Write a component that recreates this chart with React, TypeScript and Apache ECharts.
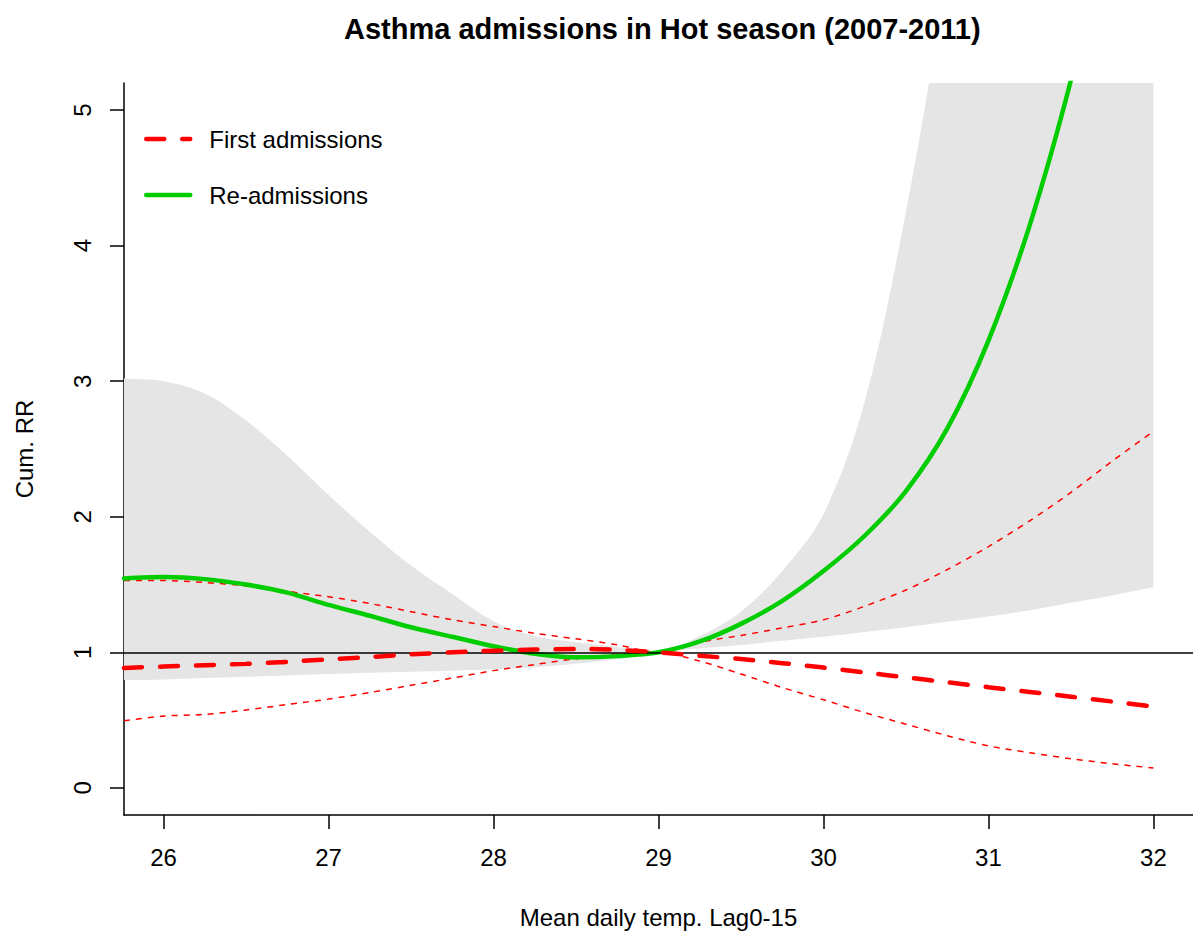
import React, { useEffect, useRef } from 'react';
import * as echarts from 'echarts';

// Mean daily temperature (x) grid
const temps = [25.76, 26, 26.25, 26.5, 26.75, 27, 27.25, 27.5, 27.75, 28, 28.25, 28.5, 28.75, 29, 29.25, 29.5, 29.75, 30, 30.25, 30.5, 30.75, 31, 31.25, 31.5, 31.75, 32];

// Re-admissions: cumulative RR and its 95% CI (grey band)
const reRR = [1.545, 1.555, 1.54, 1.5, 1.44, 1.35, 1.27, 1.185, 1.115, 1.045, 0.99, 0.963, 0.972, 1.0, 1.08, 1.21, 1.38, 1.6, 1.86, 2.19, 2.65, 3.3, 4.15, 5.22, 6.5, 8.1];
const reHi = [3.02, 3.0, 2.91, 2.71, 2.45, 2.16, 1.89, 1.64, 1.43, 1.23, 1.12, 1.075, 1.04, 1.0, 1.12, 1.3, 1.6, 2.02, 2.85, 4.25, 6.0, 7.8, 9.8, 12, 15, 18];
const reLo = [0.795, 0.8, 0.81, 0.82, 0.83, 0.84, 0.85, 0.857, 0.865, 0.873, 0.89, 0.915, 0.95, 1.0, 1.03, 1.055, 1.085, 1.115, 1.15, 1.185, 1.225, 1.265, 1.31, 1.365, 1.42, 1.48];

// First admissions: cumulative RR and its 95% CI (thin dashed)
const firstRR = [0.885, 0.895, 0.905, 0.915, 0.93, 0.948, 0.965, 0.985, 1.0, 1.012, 1.02, 1.025, 1.018, 1.0, 0.975, 0.95, 0.92, 0.888, 0.852, 0.815, 0.78, 0.743, 0.708, 0.673, 0.637, 0.6];
const firstHi = [1.53, 1.53, 1.515, 1.49, 1.45, 1.41, 1.36, 1.3, 1.24, 1.19, 1.14, 1.1, 1.055, 1.0, 1.075, 1.125, 1.18, 1.24, 1.34, 1.46, 1.61, 1.78, 1.97, 2.18, 2.41, 2.63];
const firstLo = [0.495, 0.53, 0.542, 0.575, 0.615, 0.655, 0.703, 0.757, 0.81, 0.865, 0.91, 0.953, 0.985, 1.0, 0.935, 0.84, 0.74, 0.65, 0.555, 0.47, 0.385, 0.31, 0.26, 0.215, 0.178, 0.147];

const xTicks = [26, 27, 28, 29, 30, 31, 32];
const yTicks = [0, 1, 2, 3, 4, 5];
const refLine = 1;

export default function App() {
  const ref = useRef<HTMLDivElement>(null);
  useEffect(() => {
    document.body.style.margin = '0';
    const chart = echarts.init(ref.current!, null, { renderer: 'svg' });
    const font = '"Liberation Sans", Arial, Helvetica, sans-serif';
    const pairs = (ys: number[]) => temps.map((t, i) => [t, ys[i]]);
    const axisCommon = {
      type: 'value',
      axisLine: { show: true, onZero: false, lineStyle: { color: '#000', width: 1.5 } },
      splitLine: { show: false },
      nameLocation: 'middle',
      nameTextStyle: { fontSize: 24, fontFamily: font, color: '#000' },
    };
    chart.setOption({
      animation: false,
      backgroundColor: '#fff',
      title: {
        text: 'Asthma admissions in Hot season (2007-2011)',
        left: 339,
        top: 9,
        textStyle: { fontSize: 29, fontWeight: 'bold', fontFamily: font, color: '#000' },
      },
      grid: { left: 124, top: 83, width: 1069, height: 732, containLabel: false },
      legend: {
        data: ['First admissions', 'Re-admissions'],
        orient: 'vertical',
        left: 144,
        top: 125,
        padding: 0,
        itemWidth: 44,
        itemHeight: 14,
        itemGap: 28,
        selectedMode: false,
        textStyle: { fontSize: 24, fontFamily: font, color: '#000', lineHeight: 28, padding: [0, 0, 0, 14] },
        itemStyle: { color: 'rgba(0,0,0,0)', borderWidth: 0, borderColor: 'rgba(0,0,0,0)' },
        lineStyle: { width: 'inherit', type: 'inherit', cap: 'inherit' },
      },
      xAxis: {
        ...axisCommon,
        min: 25.76,
        max: 32.24,
        name: 'Mean daily temp. Lag0-15',
        nameGap: 90,
        axisTick: { show: true, length: 14, customValues: xTicks, lineStyle: { color: '#000', width: 1.5 } },
        axisLabel: { show: true, customValues: xTicks, fontSize: 24, fontFamily: font, color: '#000', margin: 30 },
      },
      yAxis: {
        ...axisCommon,
        min: -0.2,
        max: 5.2,
        name: 'Cum. RR',
        nameGap: 88,
        axisTick: { show: true, length: 14, customValues: yTicks, lineStyle: { color: '#000', width: 1.5 } },
        axisLabel: { show: true, customValues: yTicks, rotate: 90, fontSize: 24, fontFamily: font, color: '#000', margin: 30 },
      },
      series: [
        {
          type: 'custom',
          name: 'Re-admissions CI',
          silent: true,
          clip: true,
          z: 1,
          data: [[temps[0], reLo[0]]],
          renderItem: (params: any, api: any) => {
            const top = temps.map((t, i) => api.coord([t, reHi[i]]));
            const bot = temps.map((t, i) => api.coord([t, reLo[i]])).reverse();
            const n = top.length;
            // duplicate the four corners so smoothing keeps the vertical ends straight
            const pts = [top[0], ...top, top[n - 1], bot[0], ...bot, bot[n - 1]];
            return {
              type: 'polygon',
              shape: {
                points: pts,
                smooth: 0.35,
                smoothConstraint: [[1e9, 1e9], [-1e9, -1e9]],
              },
              style: { fill: '#E5E5E5', stroke: null },
            };
          },
        },
        {
          type: 'line',
          name: 'First upper',
          data: pairs(firstHi),
          symbol: 'none',
          smooth: 0.3,
          silent: true,
          z: 3,
          lineStyle: { color: '#FF0000', width: 1.5, type: [6, 6] },
          markLine: {
            silent: true,
            symbol: 'none',
            label: { show: false },
            lineStyle: { color: '#000', width: 1.5, type: 'solid' },
            data: [{ yAxis: refLine }],
          },
        },
        {
          type: 'line',
          name: 'First lower',
          data: pairs(firstLo),
          symbol: 'none',
          smooth: 0.3,
          silent: true,
          z: 3,
          lineStyle: { color: '#FF0000', width: 1.5, type: [6, 6] },
        },
        {
          type: 'line',
          name: 'Re-admissions',
          data: pairs(reRR),
          symbol: 'none',
          smooth: 0.3,
          silent: true,
          z: 4,
          itemStyle: { color: '#00CD00' },
          lineStyle: { color: '#00CD00', width: 4.5, type: 'solid', cap: 'round' },
        },
        {
          type: 'line',
          name: 'First admissions',
          data: pairs(firstRR),
          symbol: 'none',
          smooth: 0.3,
          silent: true,
          z: 5,
          itemStyle: { color: '#FF0000' },
          lineStyle: { color: '#FF0000', width: 4.5, type: [18, 18], cap: 'round' },
        },
      ],
    });
    return () => chart.dispose();
  }, []);
  return <div ref={ref} style={{ width: 1193, height: 937 }} />;
}
